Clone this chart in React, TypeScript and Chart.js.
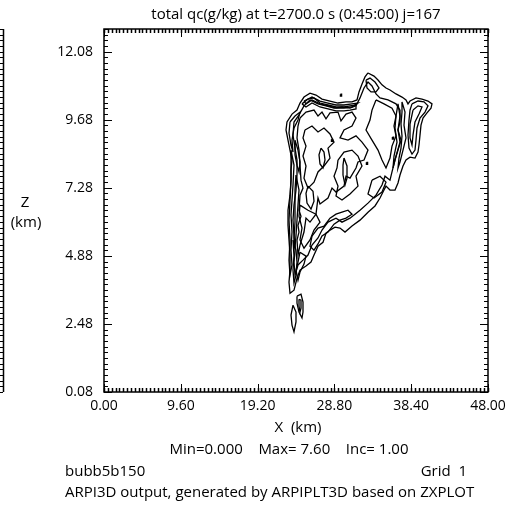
import React, { useEffect, useRef } from "react";
import { Chart, registerables } from "chart.js";

Chart.register(...registerables);

// ---- axis tick labels ----
const X_TICKS = [0, 9.6, 19.2, 28.8, 38.4, 48.0];
const Z_TICKS = [0.08, 2.48, 4.88, 7.28, 9.68, 12.08];
const X_RANGE = [0, 48];
const Z_RANGE = [0.08, 12.88];

// ---- texts ----
const TITLE = "total qc(g/kg) at t=2700.0 s (0:45:00) j=167";
const X_LABEL = "X  (km)";
const Z_LABEL = ["Z", "(km)"];
const STATS = "Min=0.000    Max= 7.60    Inc= 1.00";
const RUN_NAME = "bubb5b150";
const GRID_LABEL = "Grid  1";
const FOOTER = "ARPI3D output, generated by ARPIPLT3D based on ZXPLOT";

// ---- contour lines (x km, z km) ----
const OUTER: [number, number][] = [
  [33.0, 11.33], [33.75, 11.22], [34.25, 11.08], [34.75, 10.91], [35.25, 10.8], [35.75, 10.73],
  [36.5, 10.59], [37.25, 10.48], [37.75, 10.38], [38.0, 10.24], [38.25, 10.34], [39.0, 10.45],
  [39.75, 10.41], [40.5, 10.34], [41.0, 10.24], [40.875, 10.09], [40.375, 9.92], [39.875, 9.74],
  [39.625, 9.49], [39.5, 9.14], [39.375, 8.79], [39.25, 8.54], [38.875, 8.33], [38.25, 8.36],
  [37.75, 8.26], [37.375, 8.05], [37.0, 7.73], [36.75, 7.45], [36.375, 7.2], [35.75, 7.2],
  [35.25, 7.34], [35.0, 7.2], [34.5, 6.92], [33.875, 6.64], [33.0, 6.42], [32.0, 6.14],
  [31.0, 5.93], [30.125, 5.72], [29.5, 5.86], [28.875, 5.89], [28.25, 5.79], [27.75, 5.68],
  [27.375, 5.36], [26.75, 5.22], [26.25, 4.91], [25.875, 4.66], [25.25, 4.52], [24.5, 4.38],
  [24.125, 4.09], [23.75, 3.67], [23.25, 3.56], [23.125, 3.95], [23.25, 4.38], [23.25, 4.91],
  [23.125, 5.44], [23.0, 5.96], [23.0, 6.49], [23.25, 7.02], [23.375, 7.55], [23.375, 7.91],
  [23.5, 8.26], [23.25, 8.61], [23.0, 8.96], [22.75, 9.32], [22.875, 9.6], [23.5, 9.88],
  [24.125, 10.02], [24.5, 10.27], [25.0, 10.48], [25.75, 10.62], [26.5, 10.55], [27.25, 10.41],
  [28.25, 10.34], [29.25, 10.27], [30.25, 10.31], [31.0, 10.31], [31.625, 10.38], [31.875, 10.66],
  [32.25, 10.94], [32.625, 11.19],
];

const LEVEL2: [number, number][] = [
  [25.75, 10.38], [26.75, 10.24], [27.75, 10.17], [28.75, 10.09], [29.75, 10.13], [30.75, 10.09],
  [31.5, 10.17], [32.0, 10.45], [32.5, 10.8], [33.0, 11.01], [33.5, 10.87], [34.0, 10.59],
  [34.5, 10.45], [35.5, 10.38], [36.5, 10.24], [37.0, 10.02], [37.0, 9.6], [36.75, 9.32],
  [37.125, 8.96], [36.75, 8.61], [36.375, 8.26], [36.0, 7.84], [35.75, 7.55], [35.125, 7.69],
  [34.75, 7.38], [34.0, 7.02], [33.0, 6.74], [32.0, 6.49], [30.75, 6.21], [29.75, 6.07],
  [29.0, 6.21], [28.0, 6.07], [27.25, 5.79], [26.75, 5.51], [26.0, 5.26], [25.5, 4.91],
  [24.875, 4.73], [24.25, 4.56], [23.875, 4.2], [23.75, 4.66], [23.875, 5.08], [23.75, 5.61],
  [23.625, 6.14], [23.75, 6.67], [24.0, 7.2], [24.125, 7.73], [24.125, 8.26], [23.875, 8.68],
  [23.625, 9.14], [23.75, 9.6], [24.375, 9.85], [25.0, 10.17],
];

const LEVEL3_WEST: [number, number][] = [
  [24.5, 9.74], [25.25, 9.95], [26.25, 10.02], [26.75, 9.81], [27.25, 9.95], [27.75, 9.71],
  [28.25, 9.92], [29.25, 9.95], [29.625, 9.64], [30.25, 9.88], [31.0, 9.95], [31.5, 9.74],
  [31.0, 9.46], [30.0, 9.32], [29.5, 9.04], [30.5, 8.96], [31.5, 9.11], [32.25, 8.89],
  [33.0, 8.61], [32.5, 8.26], [31.75, 8.19], [31.5, 7.98], [30.75, 7.62], [30.25, 7.69],
  [30.0, 7.34], [29.0, 7.13], [28.5, 7.27], [28.0, 6.92], [27.0, 6.71], [26.75, 6.92],
  [26.5, 6.35], [25.75, 6.07], [25.25, 6.21], [25.0, 5.72], [24.5, 5.26], [24.25, 4.91],
  [24.125, 5.44], [24.375, 5.72], [24.25, 5.96], [24.625, 6.28], [24.375, 6.49], [24.5, 7.02],
  [24.875, 7.27], [24.625, 7.55], [24.5, 8.08], [24.375, 8.61], [24.125, 9.04], [24.25, 9.46],
];

const LEVEL3_EAST: [number, number][] = [
  [34.0, 10.38], [35.0, 10.24], [36.0, 10.09], [36.5, 9.81], [36.25, 9.46], [36.5, 9.11],
  [36.0, 8.75], [35.75, 8.33], [35.25, 7.98], [34.75, 8.26], [34.25, 8.61], [33.5, 8.96],
  [32.75, 9.32], [33.25, 9.67], [33.5, 10.02],
];

const PEAK: [number, number][] = [
  [32.75, 11.08], [33.25, 11.15], [33.875, 11.01], [34.375, 10.8], [34.0, 10.66], [33.375, 10.66],
  [32.875, 10.8],
];

const LOBE2: [number, number][] = [
  [38.5, 10.24], [39.25, 10.34], [40.0, 10.31], [40.5, 10.17], [40.125, 9.95], [39.5, 9.74],
  [39.125, 9.39], [39.0, 8.96], [38.875, 8.61], [38.5, 8.47], [38.125, 8.68], [38.0, 9.14],
  [38.125, 9.67], [38.25, 10.02],
];

const LOBE3: [number, number][] = [
  [38.625, 10.02], [39.25, 10.17], [39.75, 10.13], [39.375, 9.88], [38.875, 9.6], [38.625, 9.14],
  [38.5, 8.79], [38.25, 9.04], [38.25, 9.53],
];

const EAST_EDGE: [number, number][] = [
  [37.25, 10.31], [37.625, 9.95], [37.5, 9.49], [37.75, 9.04], [37.375, 8.61], [37.0, 8.19],
  [36.75, 7.98], [36.875, 8.33], [37.125, 8.68], [37.25, 9.11], [37.125, 9.53], [37.25, 9.95],
];

const EAST_EDGE_B: [number, number][] = [
  [36.75, 10.24], [37.0, 9.81], [36.75, 9.32], [37.0, 8.89], [36.5, 8.4], [36.125, 7.98],
  [36.25, 8.4], [36.625, 8.89], [36.375, 9.39], [36.5, 9.81],
];

const TOP_EDGE: [number, number][] = [
  [25.0, 10.34], [26.0, 10.48], [27.0, 10.34], [28.0, 10.27], [29.0, 10.2], [30.0, 10.2],
  [31.0, 10.24], [31.75, 10.27], [31.0, 10.13], [30.0, 10.09], [29.0, 10.09], [28.0, 10.17],
  [27.0, 10.24], [26.0, 10.38], [25.25, 10.24],
];

const TOP_EDGE_B: [number, number][] = [
  [24.75, 10.24], [25.5, 10.41], [26.25, 10.45], [27.0, 10.27], [28.0, 10.2], [29.0, 10.13],
  [30.0, 10.13], [30.75, 10.17], [31.5, 10.2], [31.5, 10.06], [30.75, 10.02], [30.0, 9.99],
  [29.0, 9.99], [28.0, 10.06], [27.0, 10.13], [26.0, 10.27], [25.25, 10.13],
];

const WEST_EDGE_A: [number, number][] = [
  [23.375, 8.61], [23.75, 8.08], [23.625, 7.38], [23.5, 6.85], [23.375, 6.32], [23.5, 5.72],
  [23.375, 5.08], [23.5, 4.56], [23.25, 4.2], [23.125, 4.73], [23.25, 5.44], [23.125, 6.14],
  [23.25, 6.85], [23.375, 7.55], [23.375, 8.19],
];

const WEST_EDGE_B: [number, number][] = [
  [24.0, 7.73], [24.375, 7.2], [24.25, 6.67], [24.125, 6.14], [24.0, 5.61], [23.875, 5.15],
  [23.75, 5.51], [23.875, 6.07], [23.875, 6.67], [23.875, 7.2],
];

const WEST_EDGE_C: [number, number][] = [
  [23.875, 8.96], [24.25, 8.61], [24.5, 8.19], [24.375, 7.84], [24.125, 8.08], [23.875, 8.44],
];

const WEST_EDGE_D: [number, number][] = [
  [23.625, 5.44], [24.0, 5.08], [24.125, 4.66], [24.0, 4.2], [23.75, 3.92], [23.625, 4.38],
  [23.75, 4.87],
];

const WEST_CORNER: [number, number][] = [
  [23.25, 9.6], [23.875, 9.81], [24.5, 9.95], [24.25, 9.67], [23.75, 9.39], [23.5, 8.96],
  [23.625, 8.54], [23.375, 8.79], [23.125, 9.21],
];

const INNER_WEST: [number, number][] = [
  [25.125, 9.32], [26.0, 9.46], [26.75, 9.25], [27.5, 9.39], [28.25, 9.18], [28.75, 8.89],
  [28.0, 8.68], [28.25, 8.33], [27.5, 8.05], [26.75, 7.84], [26.25, 7.48], [25.5, 7.27],
  [25.0, 7.62], [25.25, 8.05], [24.875, 8.4], [25.25, 8.75], [24.875, 9.04],
];

const INNER_MID: [number, number][] = [
  [29.25, 8.26], [30.0, 8.54], [31.0, 8.61], [31.75, 8.4], [32.25, 8.05], [31.5, 7.69],
  [31.75, 7.34], [30.75, 7.06], [29.75, 6.85], [29.0, 6.99], [29.25, 7.34], [28.75, 7.69],
  [29.125, 7.98],
];

const INNER_LOW: [number, number][] = [
  [24.5, 6.67], [25.5, 6.49], [26.5, 6.35], [27.0, 6.07], [26.25, 5.79], [25.75, 5.44],
  [25.0, 5.15], [24.5, 5.44], [24.75, 5.86], [24.375, 6.28],
];

const INNER_BASE_RIDGE: [number, number][] = [
  [26.0, 5.58], [26.75, 5.86], [27.5, 5.93], [28.25, 6.21], [29.0, 6.35], [29.75, 6.42],
  [30.5, 6.49], [31.0, 6.35], [30.25, 6.21], [29.5, 6.14], [28.75, 6.0], [28.0, 5.72],
  [27.25, 5.58], [26.75, 5.3], [26.25, 5.08], [25.75, 5.22],
];

const INNER_BASE_WEST: [number, number][] = [
  [24.5, 5.01], [25.25, 4.87], [25.0, 4.59], [24.5, 4.31], [24.25, 4.02], [24.0, 4.38],
  [24.25, 4.66],
];

const INNER_EAST: [number, number][] = [
  [33.5, 7.55], [34.5, 7.69], [35.25, 7.48], [34.75, 7.13], [33.75, 6.92], [33.0, 7.06],
];

const CELL_A: [number, number][] = [
  [27.125, 8.68], [27.5, 8.54], [27.625, 8.26], [27.375, 7.98], [27.0, 8.12], [26.875, 8.44],
];
const CELL_B: [number, number][] = [
  [30.0, 8.33], [30.375, 8.05], [30.375, 7.62], [30.125, 7.38], [29.875, 7.73], [29.875, 8.08],
];
const CELL_C: [number, number][] = [
  [25.5, 7.34], [26.125, 7.16], [26.25, 6.81], [25.875, 6.53], [25.375, 6.74], [25.25, 7.09],
];
const DOT_A: [number, number][] = [[29.55, 10.58], [29.7, 10.58], [29.7, 10.51], [29.55, 10.51]];
const DOT_B: [number, number][] = [[36.05, 9.07], [36.2, 9.07], [36.2, 9.0], [36.05, 9.0]];
const DOT_C: [number, number][] = [[32.8, 8.18], [32.95, 8.18], [32.95, 8.11], [32.8, 8.11]];
const DOT_D: [number, number][] = [[28.43, 8.99], [28.58, 8.99], [28.58, 8.92], [28.43, 8.92]];

const BASE_A: [number, number][] = [
  [24.125, 3.46], [24.625, 3.53], [24.875, 3.25], [24.875, 2.9], [24.75, 2.69], [24.375, 2.9],
  [24.125, 3.21],
];
const BASE_A_IN: [number, number][] = [
  [24.375, 3.35], [24.625, 3.32], [24.625, 3.04], [24.5, 2.9], [24.375, 3.11],
];
const BASE_B: [number, number][] = [
  [23.625, 3.14], [24.0, 2.9], [24.0, 2.55], [23.75, 2.2], [23.5, 2.44], [23.375, 2.79],
];

const CONTOURS = [
  OUTER, LEVEL2, LEVEL3_WEST, LEVEL3_EAST, PEAK, LOBE2, LOBE3, EAST_EDGE, EAST_EDGE_B,
  TOP_EDGE, TOP_EDGE_B, WEST_EDGE_A, WEST_EDGE_B, WEST_EDGE_C, WEST_EDGE_D, WEST_CORNER,
  INNER_WEST, INNER_MID, INNER_LOW, INNER_BASE_RIDGE, INNER_BASE_WEST, INNER_EAST,
  CELL_A, CELL_B, CELL_C, DOT_A, DOT_B, DOT_C, DOT_D, BASE_A, BASE_A_IN, BASE_B,
];

const FONT = "'Open Sans', 'DejaVu Sans', sans-serif";
const TICK_FS = 14;
const TEXT_FS = 15;

const framePlugin = {
  id: "frame",
  afterDraw(chart: any) {
    const { ctx, chartArea: a, scales } = chart;
    const xs = scales.x;
    const ys = scales.y;
    ctx.save();
    ctx.strokeStyle = "#000";
    ctx.fillStyle = "#000";
    const seg = (x1: number, y1: number, x2: number, y2: number, w: number) => {
      ctx.lineWidth = w;
      ctx.beginPath();
      ctx.moveTo(x1, y1);
      ctx.lineTo(x2, y2);
      ctx.stroke();
    };
    // frame
    ctx.lineWidth = 1.5;
    ctx.strokeRect(a.left, a.top, a.right - a.left, a.bottom - a.top);
    // x minor ticks (top & bottom), dense
    for (let v = X_RANGE[0]; v <= X_RANGE[1] + 1e-6; v += 0.48) {
      const px = Math.round(xs.getPixelForValue(v)) + 0.5;
      seg(px, a.top, px, a.top + 4, 1.5);
      seg(px, a.bottom, px, a.bottom - 4, 1.5);
    }
    for (const v of X_TICKS) {
      const px = Math.round(xs.getPixelForValue(v)) + 0.5;
      seg(px, a.top, px, a.top + 8, 1);
      seg(px, a.bottom, px, a.bottom - 8, 1);
    }
    // z minor ticks (left & right)
    for (let v = Z_RANGE[0]; v <= Z_RANGE[1] + 1e-6; v += 0.2) {
      const py = Math.round(ys.getPixelForValue(v)) + 0.5;
      seg(a.left, py, a.left + 4, py, 1);
      seg(a.right, py, a.right - 4, py, 1);
      // neighbouring panel edge at far left
      seg(0, py, 3, py, 1);
    }
    for (const v of Z_TICKS) {
      const py = Math.round(ys.getPixelForValue(v)) + 0.5;
      seg(a.left, py, a.left + 8, py, 1);
      seg(a.right, py, a.right - 8, py, 1);
    }
    seg(3.5, a.top, 3.5, a.bottom, 1.5);

    // texts
    ctx.font = `${TEXT_FS}px ${FONT}`;
    ctx.textBaseline = "middle";
    const cx = (a.left + a.right) / 2;
    ctx.textAlign = "center";
    ctx.fillText(TITLE, cx, 15);
    ctx.fillText(Z_LABEL[0], 25, 203);
    ctx.fillText(Z_LABEL[1], 26, 223);
    ctx.fillText(X_LABEL, cx + 2, 428);
    ctx.fillText(STATS, cx - 7, 450);
    ctx.textAlign = "left";
    ctx.fillText(RUN_NAME, 65, 472);
    ctx.fillText(FOOTER, 65, 493);
    ctx.textAlign = "right";
    ctx.fillText(GRID_LABEL, 467, 472);
    ctx.restore();
  },
};

export default function App() {
  const ref = useRef<HTMLCanvasElement | null>(null);
  useEffect(() => {
    if (!ref.current) return;
    const datasets = CONTOURS.map((c) => ({
      data: [...c, c[0]].map(([x, y]) => ({ x, y })),
      showLine: true,
      borderColor: "#000",
      borderWidth: 1.3,
      pointRadius: 0,
      fill: false,
      tension: 0,
    }));
    const tickFont = { family: FONT, size: TICK_FS };
    const chart = new Chart(ref.current, {
      type: "scatter",
      data: { datasets },
      options: {
        responsive: false,
        animation: false,
        layout: { padding: { top: 29, right: 25, left: 0, bottom: 0 } },
        plugins: { legend: { display: false }, tooltip: { enabled: false }, title: { display: false } },
        scales: {
          x: {
            type: "linear",
            min: X_RANGE[0],
            max: X_RANGE[1],
            afterBuildTicks: (s: any) => {
              s.ticks = X_TICKS.map((v) => ({ value: v }));
            },
            afterFit: (s: any) => {
              s.height = 114;
            },
            ticks: {
              callback: (v: any) => Number(v).toFixed(2),
              font: tickFont,
              color: "#000",
              padding: 6,
              maxRotation: 0,
              autoSkip: false,
            },
            grid: { display: false, drawTicks: false },
            border: { display: false },
          },
          y: {
            type: "linear",
            min: Z_RANGE[0],
            max: Z_RANGE[1],
            afterBuildTicks: (s: any) => {
              s.ticks = Z_TICKS.map((v) => ({ value: v }));
            },
            afterFit: (s: any) => {
              s.width = 104;
            },
            ticks: {
              callback: (v: any) => Number(v).toFixed(2),
              font: tickFont,
              color: "#000",
              padding: 11,
              autoSkip: false,
            },
            grid: { display: false, drawTicks: false },
            border: { display: false },
          },
        },
      },
      plugins: [framePlugin],
    } as any);
    return () => chart.destroy();
  }, []);
  return (
    <div style={{ position: "absolute", left: 0, top: 0, width: 513, height: 506, background: "#fff" }}>
      <canvas ref={ref} width={513} height={506} style={{ display: "block" }} />
    </div>
  );
}
